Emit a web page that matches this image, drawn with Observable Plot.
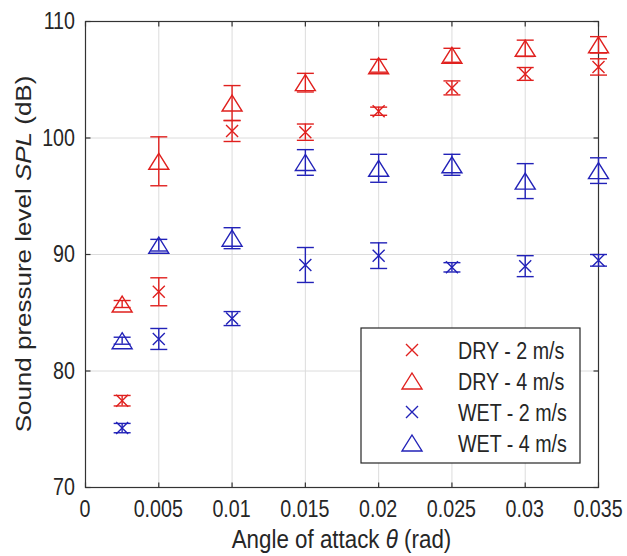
<!DOCTYPE html>
<html><head><meta charset="utf-8">
<script src="https://cdn.jsdelivr.net/npm/d3@7"></script>
<script src="https://cdn.jsdelivr.net/npm/@observablehq/plot@0.6"></script>
<style>
body{margin:0;background:#fff}
#chart{position:relative;width:627px;height:556px}
</style>
</head><body><div id="chart"></div>
<script>
// ---- data ----
const angles   = [0.0025, 0.005, 0.01, 0.015, 0.02, 0.025, 0.03, 0.035];
const dry2     = [77.45, 86.8, 100.6, 100.5, 102.3, 104.3, 105.5, 106.1];
const dry2Err  = [0.45, 1.2, 0.9, 0.7, 0.35, 0.6, 0.55, 0.7];
const dry4     = [85.75, 98.0, 103.0, 104.75, 106.2, 107.1, 107.7, 108.0];
const dry4Err  = [0.3, 2.1, 1.5, 0.8, 0.55, 0.6, 0.7, 0.7];
const wet2     = [75.1, 82.75, 84.5, 89.1, 89.9, 88.9, 89.0, 89.5];
const wet2Err  = [0.4, 0.9, 0.6, 1.5, 1.1, 0.4, 0.9, 0.5];
const wet4     = [82.6, 90.8, 91.4, 97.9, 97.4, 97.7, 96.3, 97.2];
const wet4Err  = [0.3, 0.5, 0.9, 1.1, 1.2, 0.9, 1.5, 1.1];
const seriesNames = ["DRY - 2 m/s", "DRY - 4 m/s", "WET - 2 m/s", "WET - 4 m/s"];
const xTicks = [0, 0.005, 0.01, 0.015, 0.02, 0.025, 0.03, 0.035];
const xTickLabels = ["0", "0.005", "0.01", "0.015", "0.02", "0.025", "0.03", "0.035"];
const yTicks = [70, 80, 90, 100, 110];
const yTickLabels = ["70", "80", "90", "100", "110"];
const xLabel = ["Angle of attack ", "θ", " (rad)"];
const yLabel = ["Sound pressure level ", "SPL", " (dB)"];

const RED = "#e0201e", BLUE = "#2222b8";
const TXT = "#262626";
const FONT = "'Liberation Sans', Arial, Helvetica, sans-serif";

// ---- marker shapes ----
const sym = {
  times: {draw(c){const a=6; c.moveTo(-a,-a); c.lineTo(a,a); c.moveTo(a,-a); c.lineTo(-a,a);}},
  tri:   {draw(c){c.moveTo(0,-8); c.lineTo(10,8); c.lineTo(-10,8); c.closePath();}},
  cap:   {draw(c){c.moveTo(-8.5,0); c.lineTo(8.5,0);}},
  tUp:   {draw(c){c.moveTo(0,0); c.lineTo(0,-5);}},
  tDown: {draw(c){c.moveTo(0,0); c.lineTo(0,5);}},
  tRight:{draw(c){c.moveTo(0,0); c.lineTo(5,0);}},
  tLeft: {draw(c){c.moveTo(0,0); c.lineTo(-5,0);}}
};

const series = [
  {name: seriesNames[0], values: dry2, errs: dry2Err, color: RED,  symbol: sym.times},
  {name: seriesNames[1], values: dry4, errs: dry4Err, color: RED,  symbol: sym.tri},
  {name: seriesNames[2], values: wet2, errs: wet2Err, color: BLUE, symbol: sym.times},
  {name: seriesNames[3], values: wet4, errs: wet4Err, color: BLUE, symbol: sym.tri}
];

const [x0, x1] = [xTicks[0], xTicks[xTicks.length-1]];
const [y0, y1] = [yTicks[0], yTicks[yTicks.length-1]];

const seriesMarks = series.flatMap(s => {
  const rows = angles.map((a, i) => ({angle: a, value: s.values[i], err: s.errs[i]}));
  const sw = 1.4;
  return [
    Plot.ruleX(rows, {x: "angle", y1: d => d.value - d.err, y2: d => d.value + d.err, stroke: s.color, strokeWidth: sw}),
    Plot.dot(rows, {x: "angle", y: d => d.value + d.err, symbol: sym.cap, stroke: s.color, fill: "none", strokeWidth: sw}),
    Plot.dot(rows, {x: "angle", y: d => d.value - d.err, symbol: sym.cap, stroke: s.color, fill: "none", strokeWidth: sw}),
    Plot.dot(rows, {x: "angle", y: "value", symbol: s.symbol, stroke: s.color, fill: "none", strokeWidth: sw})
  ];
});

const chart = Plot.plot({
  width: 627, height: 556,
  marginLeft: 85, marginRight: 29, marginTop: 21, marginBottom: 69,
  style: {fontFamily: FONT, fontSize: "24px", color: TXT, background: "#fff"},
  x: {domain: [x0, x1], axis: null},
  y: {domain: [y0, y1], axis: null},
  marks: [
    Plot.gridX(xTicks, {stroke: "#dcdcdc", strokeOpacity: 1, strokeWidth: 1}),
    Plot.gridY(yTicks, {stroke: "#dcdcdc", strokeOpacity: 1, strokeWidth: 1}),
    Plot.frame({stroke: "#333", strokeWidth: 1.2}),
    Plot.dot(xTicks, {x: d => d, y: () => y0, symbol: sym.tUp, stroke: "#333", strokeWidth: 1.2}),
    Plot.dot(xTicks, {x: d => d, y: () => y1, symbol: sym.tDown, stroke: "#333", strokeWidth: 1.2}),
    Plot.dot(yTicks, {x: () => x0, y: d => d, symbol: sym.tRight, stroke: "#333", strokeWidth: 1.2}),
    Plot.dot(yTicks, {x: () => x1, y: d => d, symbol: sym.tLeft, stroke: "#333", strokeWidth: 1.2}),
    ...seriesMarks
  ]
});

const sx = chart.scale("x"), sy = chart.scale("y");
const svg = d3.select(chart);
const txt = (g) => g.attr("fill", TXT).attr("font-family", FONT);

// tick labels, positioned through Plot's scales (narrow text as in reference)
const gx = svg.append("g").attr("text-anchor", "middle");
xTicks.forEach((v, i) => {
  gx.append("text").call(txt).attr("font-size", 24)
    .attr("transform", `translate(${sx.apply(v)},${sy.apply(y0) + 30}) scale(0.82,1)`)
    .text(xTickLabels[i]);
});
const gy = svg.append("g").attr("text-anchor", "end");
yTicks.forEach((v, i) => {
  gy.append("text").call(txt).attr("font-size", 24)
    .attr("transform", `translate(${sx.apply(x0) - 10},${sy.apply(v) + 8}) scale(0.82,1)`)
    .text(yTickLabels[i]);
});

// axis labels
const xl = svg.append("text").call(txt)
  .attr("transform", "translate(341.5,548) scale(0.86,1)")
  .attr("text-anchor", "middle").attr("font-size", 26);
xl.append("tspan").text(xLabel[0]);
xl.append("tspan").attr("font-style", "italic").text(xLabel[1]);
xl.append("tspan").text(xLabel[2]);

const yl = svg.append("text").call(txt)
  .attr("transform", "translate(31,254) rotate(-90) scale(1,0.85)")
  .attr("text-anchor", "middle").attr("font-size", 26);
yl.append("tspan").text(yLabel[0]);
yl.append("tspan").attr("font-style", "italic").text(yLabel[1]);
yl.append("tspan").text(yLabel[2]);

// legend
const lg = svg.append("g");
lg.append("rect").attr("x", 361).attr("y", 328).attr("width", 219).attr("height", 135)
  .attr("fill", "#fff").attr("stroke", "#262626").attr("stroke-width", 1.2);
const rowY = [350, 381, 412, 443];
series.forEach((s, i) => {
  const p = d3.path(); s.symbol.draw(p);
  lg.append("path").attr("d", p.toString()).attr("transform", `translate(412,${rowY[i]})`)
    .attr("fill", "none").attr("stroke", s.color).attr("stroke-width", 1.4);
  lg.append("text").call(txt).attr("text-anchor", "start")
    .attr("transform", `translate(458,${rowY[i] + 8.5}) scale(0.82,1)`)
    .attr("font-size", 24).text(s.name);
});

document.getElementById("chart").appendChild(chart);
</script>
</body></html>
